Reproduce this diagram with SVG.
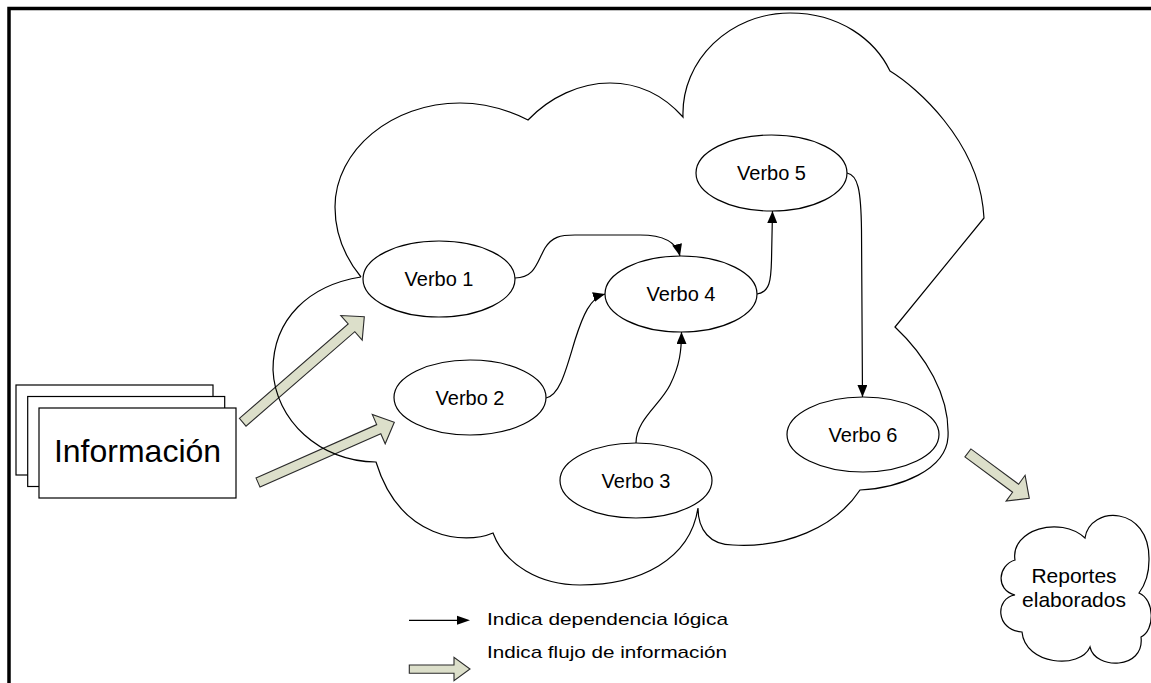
<svg xmlns="http://www.w3.org/2000/svg" width="1151" height="683" viewBox="0 0 1151 683">
<style>
.node{fill:#fff;stroke:#000;stroke-width:1.2}
.lbl{font-family:"Liberation Sans",Arial,sans-serif;fill:#000;text-anchor:middle}
.conn{fill:none;stroke:#000;stroke-width:1.2}
.flow{fill:#DCDFCA;stroke:#2a2a2a;stroke-width:1.1;stroke-linejoin:miter}
.cloud{fill:none;stroke:#000;stroke-width:1.2}
</style>
<defs>
<marker id="ah" viewBox="0 0 12 10" refX="12" refY="5" markerWidth="12" markerHeight="10" markerUnits="userSpaceOnUse" orient="auto">
<path d="M0,0 L12,5 L0,10 Z" fill="#000"/>
</marker>
</defs>
<rect width="1151" height="683" fill="#fff"/>
<path d="M9,683 V8.5 H1151" fill="none" stroke="#000" stroke-width="3.5"/>

<g id="flow-arrows">
<polygon class="flow" points="239.4,418.4 348.2,324.0 340.8,315.5 364.3,316.7 362.2,340.1 354.8,331.7 246.0,426.1"/>
<polygon class="flow" points="256.0,477.9 376.7,424.6 372.3,414.5 394.3,422.3 385.2,443.8 380.8,433.7 260.0,487.1"/>
<polygon class="flow" points="964.9,456.9 1012.6,492.2 1006.1,501.1 1029.3,498.3 1025.1,475.3 1018.6,484.2 970.9,448.9"/>
</g>

<g id="cloud-main">
<path class="cloud" d="M361,277 C343,255 335,232 335,207 C335,150 392,103 460,103 C485,103 508,110 528,120 C550,97 580,83 610,83 C640,83 665,97 683,117 C681,60 730,13 790,13 C840,13 875,40 890,71 C918,88 975,140 983,207 L984,218 L895,327 C925,355 950,395 948,437 C946,470 900,488 860,490 C835,528 785,548 733,545 C710,545 698,530 698,508 C690,560 640,585 580,585 C540,585 505,565 493,533 C465,545 400,540 376,462 C320,462 275,420 273,370 C273,318 310,285 361,277"/>
</g>

<g id="informacion">
<rect class="node" x="16" y="385" width="197" height="90"/>
<rect class="node" x="27.7" y="396.5" width="197" height="90"/>
<rect class="node" x="39" y="408" width="197" height="90"/>
<text class="lbl" x="137.5" y="462" font-size="32">Información</text>
</g>

<g id="connectors">
<path class="conn" marker-end="url(#ah)" d="M515,278 C535,278 537,262 545,248 C552,237 560,235 575,235 L640,235 C660,235 676,240 680,256"/>
<path class="conn" marker-end="url(#ah)" d="M546,398 C560,395 566,370 575,340 C583,315 590,298 605,294"/>
<path class="conn" marker-end="url(#ah)" d="M636,443 C636,420 660,405 670,385 C680,365 681.5,350 681.5,332"/>
<path class="conn" marker-end="url(#ah)" d="M757,294 C770,292 771,280 771.5,260 L772.5,211"/>
<path class="conn" marker-end="url(#ah)" d="M847,173 C858,175 861,190 861.5,230 L862.5,397"/>
</g>

<g id="verbo1"><ellipse class="node" cx="439" cy="279" rx="76" ry="38"/><text class="lbl" x="439" y="286" font-size="20">Verbo 1</text></g>
<g id="verbo2"><ellipse class="node" cx="470" cy="397.5" rx="76" ry="37.5"/><text class="lbl" x="470" y="404.5" font-size="20">Verbo 2</text></g>
<g id="verbo3"><ellipse class="node" cx="636" cy="480.5" rx="76" ry="37.5"/><text class="lbl" x="636" y="487.5" font-size="20">Verbo 3</text></g>
<g id="verbo4"><ellipse class="node" cx="681" cy="294" rx="76" ry="38"/><text class="lbl" x="681" y="301" font-size="20">Verbo 4</text></g>
<g id="verbo5"><ellipse class="node" cx="771.5" cy="173" rx="75.5" ry="38"/><text class="lbl" x="771.5" y="180" font-size="20">Verbo 5</text></g>
<g id="verbo6"><ellipse class="node" cx="863" cy="434.5" rx="76" ry="37.5"/><text class="lbl" x="863" y="441.5" font-size="20">Verbo 6</text></g>

<g id="reportes">
<path class="node" d="M1015,560 C1010,530 1060,515 1085,538 C1090,505 1150,505 1149,560 C1149,575 1145,585 1139,593 C1155,600 1155,630 1141,637 C1145,670 1095,670 1090,647 C1080,670 1025,665 1022,632 C995,630 995,598 1015,595 C995,590 998,565 1015,560 Z"/>
<text class="lbl" x="1074" y="583" font-size="21">Reportes</text>
<text class="lbl" x="1074" y="607" font-size="21">elaborados</text>
</g>

<g id="legend">
<line class="conn" x1="409" y1="620.3" x2="458" y2="620.3"/>
<polygon points="457,615.8 470,620.3 457,624.8" fill="#000"/>
<text x="487" y="625" font-family="'Liberation Sans',Arial,sans-serif" font-size="17" textLength="241" lengthAdjust="spacingAndGlyphs">Indica dependencia lógica</text>
<polygon class="flow" points="409.3,665 454,665 454,657.3 470,669 454,680.7 454,673.3 409.3,673.3"/>
<text x="487" y="657.5" font-family="'Liberation Sans',Arial,sans-serif" font-size="17" textLength="240" lengthAdjust="spacingAndGlyphs">Indica flujo de información</text>
</g>
</svg>
